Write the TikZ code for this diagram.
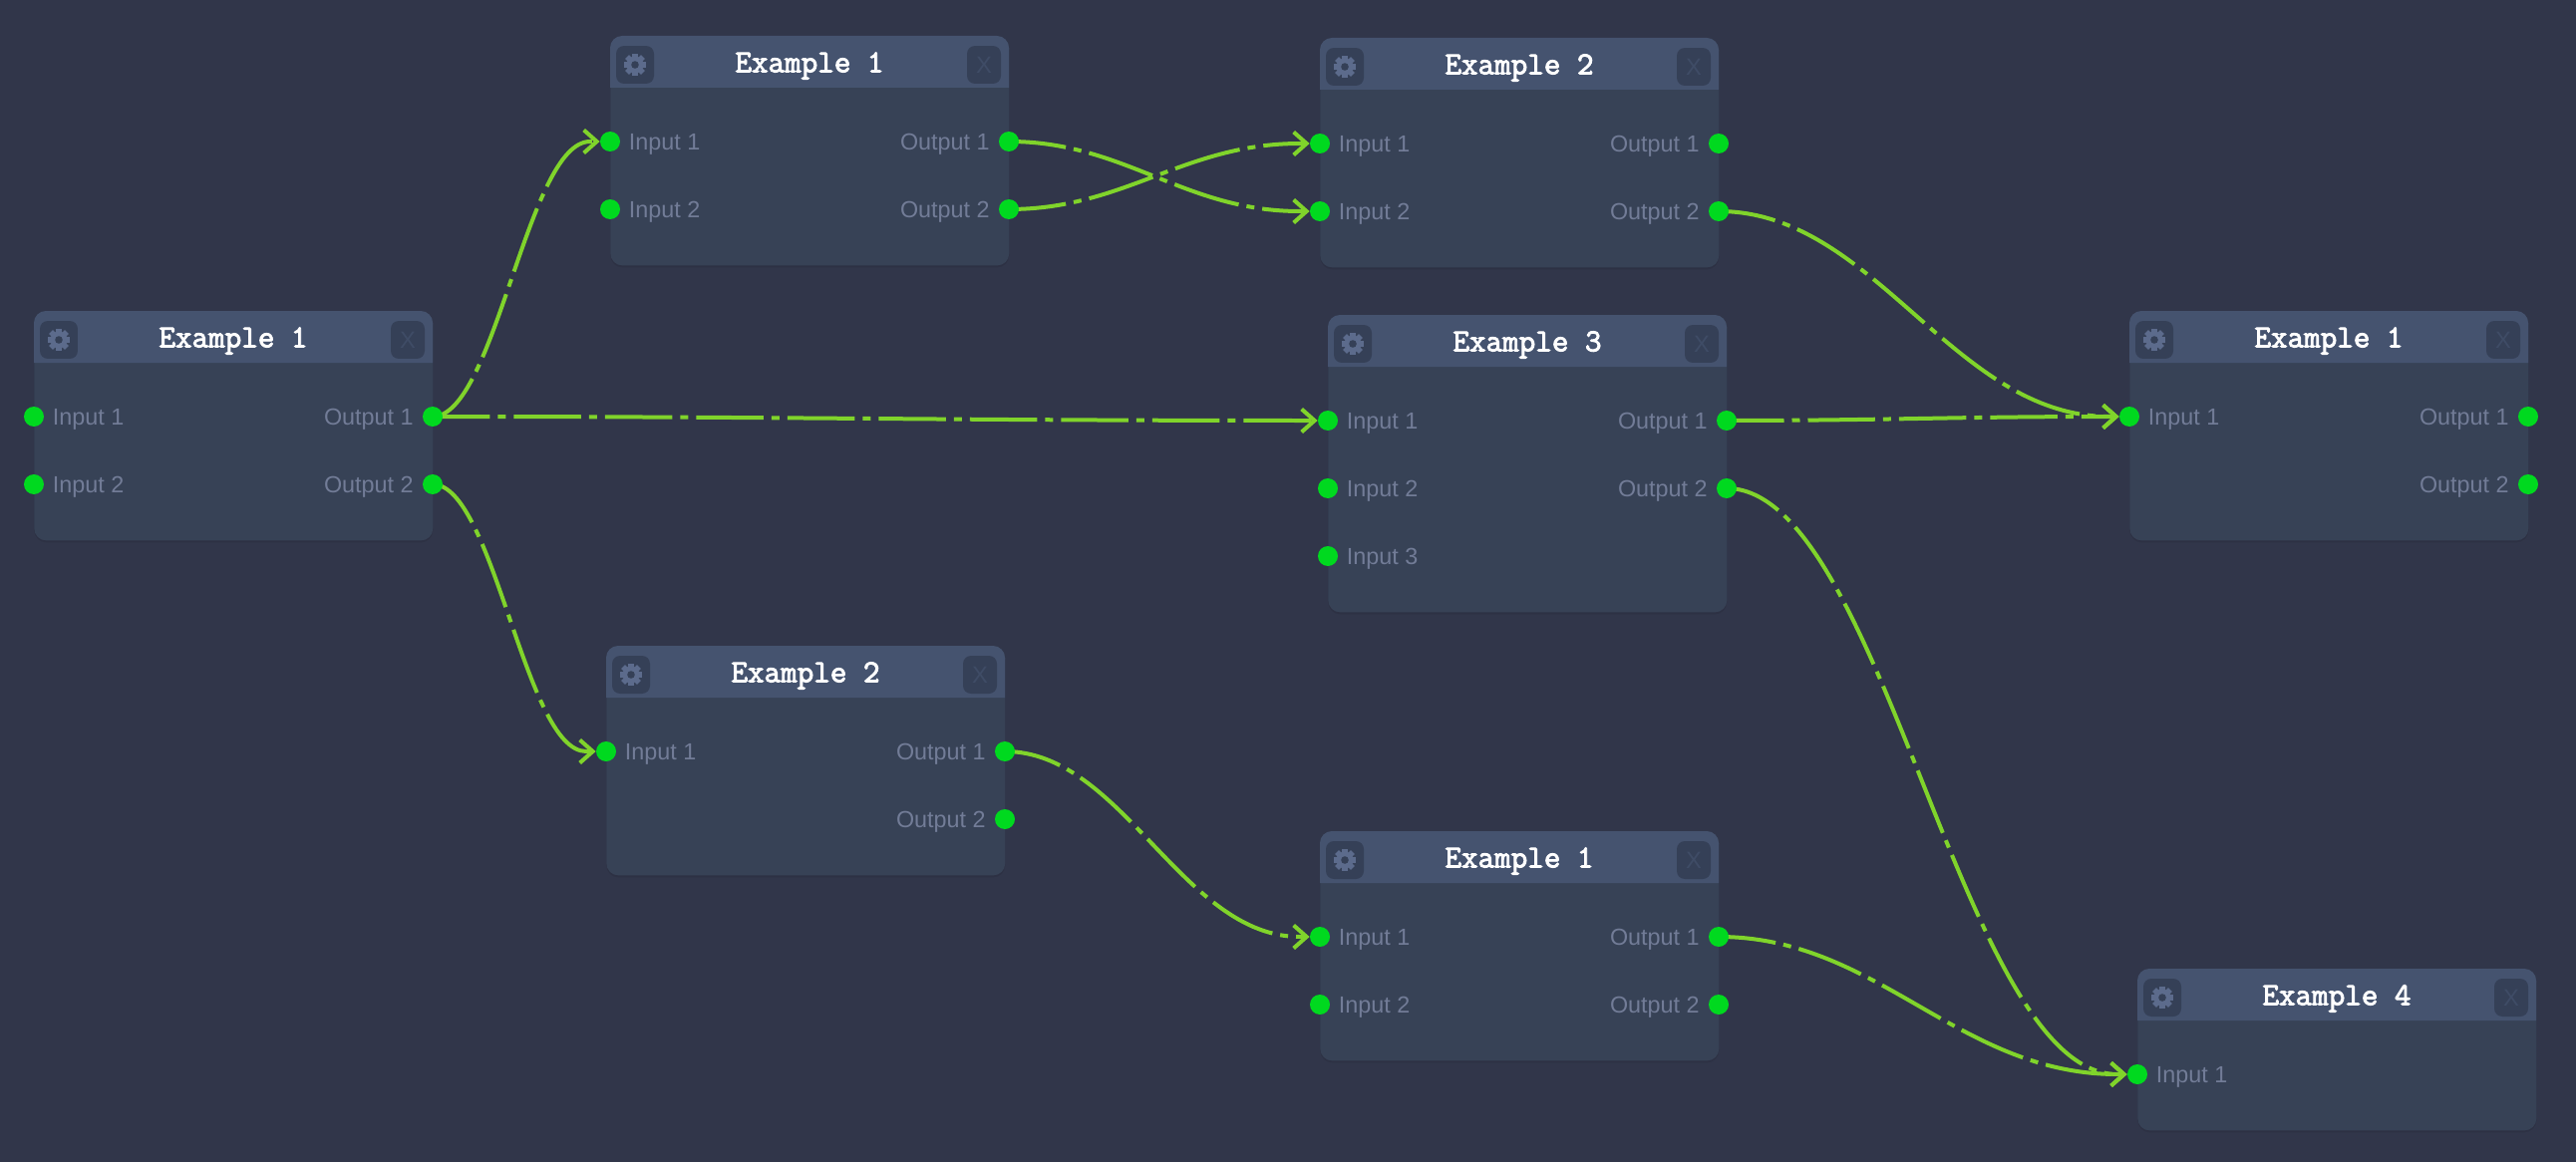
\documentclass[tikz,border=0pt]{standalone}
\usepackage{fontspec}
\setmainfont{Liberation Sans}
\newfontfamily\titlefont[FakeBold=2.8]{Latin Modern Mono}
\usetikzlibrary{positioning,calc,arrows.meta,shadows}

\pgfdeclarelayer{wires}
\pgfdeclarelayer{ports}
\pgfsetlayers{main,wires,ports}

\definecolor{pagebg}{HTML}{31364A}
\definecolor{cardfill}{HTML}{374256}
\definecolor{headfill}{HTML}{45536F}
\definecolor{btnfill}{HTML}{354057}
\definecolor{gearfill}{HTML}{5C6B8C}
\definecolor{closetxt}{HTML}{3F4C66}
\definecolor{porttxt}{HTML}{727C97}
\definecolor{portgreen}{HTML}{00D91F}
\definecolor{wiregreen}{HTML}{80D42B}

\tikzset{
  cardbody/.style={fill=cardfill, rounded corners=0.24cm, anchor=north west, minimum width=8cm, inner sep=0pt,
    drop shadow={shadow xshift=0cm, shadow yshift=-0.04cm, opacity=0.08, fill=black}},
  cardtitle/.style={text=white, font=\titlefont\fontsize{18.3}{20}\selectfont, inner sep=0pt},
  gearbtn/.style={fill=btnfill, rounded corners=0.16cm, minimum width=0.76cm, minimum height=0.76cm, inner sep=0pt},
  closebtn/.style={fill=btnfill, rounded corners=0.16cm, minimum width=0.68cm, minimum height=0.76cm, inner sep=0pt,
    text=closetxt, font=\fontsize{13.5}{15}\selectfont, text height=0.34cm, text depth=0pt},
  port/.style={circle, fill=portgreen, minimum size=0.4cm, inner sep=0pt},
  portlbl/.style={text=porttxt, font=\fontsize{13.3}{15}\selectfont, inner sep=0pt, text height=0.33cm, text depth=0pt},
  wire/.style={draw=wiregreen, line width=0.08cm, dash pattern=on 1.35cm off 0.16cm on 0.16cm off 0.16cm, dash phase=0.2cm},
  wirearrow/.style={wire, -{Straight Barb[length=0.26cm, width=0.46cm]}}
}

% name, left, top, height, title
\newcommand{\flowcard}[5]{
  \begin{scope}[shift={(#2,-#3)}]
    \node[cardbody, minimum height=#4*0.02cm] (#1) at (0,0) {};
    \fill[headfill] (0,-52) [rounded corners=0.24cm] -- (0,0) -- (400,0) [sharp corners] -- (400,-52) -- cycle;
    \node[cardtitle] (#1_title) at (200,-30) {#5};
    \node[gearbtn] (#1_gear) at (25,-29) {};
    \fill[gearfill] (25,-29) circle (8.5);
    \foreach \a in {0,45,...,315}
      \fill[gearfill, rotate around={\a:(25,-29)}] (22.2,-29) rectangle (27.8,-17.8);
    \fill[btnfill] (25,-29) circle (3.8);
    \node[closebtn] (#1_close) at (375,-29) {X};
  \end{scope}
}
% name, x, y, label
\newcommand{\inport}[4]{
  \node[port] (#1) at (#2,-#3) {};
  \node[portlbl, right=0.37cm of #1.center] (#1_lbl) {#4};
}
\newcommand{\outport}[4]{
  \node[port] (#1) at (#2,-#3) {};
  \node[portlbl, left=0.38cm of #1.center] (#1_lbl) {#4};
}
% from, to
\newcommand{\wireup}[2]{
  \draw[wirearrow] let \p1=(#1.center), \p2=($(#2.center)-(20,0)$), \n1={0.4*(\x2-\x1)} in
    (#1.center) .. controls +(\n1,0) and +(-\n1,0) .. (\p2) -- (#2.west);
}

\begin{document}
\begin{tikzpicture}[x=0.02cm, y=0.02cm]
  \useasboundingbox (0,0) rectangle (2584,-1166);
  \fill[pagebg] (0,0) rectangle (2584,-1166);

  % Cards
  \flowcard{A}{34}{312}{230}{Example 1}
  \flowcard{B}{612}{36}{230}{Example 1}
  \flowcard{C}{1324}{38}{230}{Example 2}
  \flowcard{D}{1332}{316}{298}{Example 3}
  \flowcard{E}{2136}{312}{230}{Example 1}
  \flowcard{F}{608}{648}{230}{Example 2}
  \flowcard{G}{1324}{834}{230}{Example 1}
  \flowcard{H}{2144}{972}{162}{Example 4}

  % Ports
  \begin{pgfonlayer}{ports}
  \inport{A_in1}{34}{418}{Input 1}
  \inport{A_in2}{34}{486}{Input 2}
  \outport{A_out1}{434}{418}{Output 1}
  \outport{A_out2}{434}{486}{Output 2}

  \inport{B_in1}{612}{142}{Input 1}
  \inport{B_in2}{612}{210}{Input 2}
  \outport{B_out1}{1012}{142}{Output 1}
  \outport{B_out2}{1012}{210}{Output 2}

  \inport{C_in1}{1324}{144}{Input 1}
  \inport{C_in2}{1324}{212}{Input 2}
  \outport{C_out1}{1724}{144}{Output 1}
  \outport{C_out2}{1724}{212}{Output 2}

  \inport{D_in1}{1332}{422}{Input 1}
  \inport{D_in2}{1332}{490}{Input 2}
  \inport{D_in3}{1332}{558}{Input 3}
  \outport{D_out1}{1732}{422}{Output 1}
  \outport{D_out2}{1732}{490}{Output 2}

  \inport{E_in1}{2136}{418}{Input 1}
  \outport{E_out1}{2536}{418}{Output 1}
  \outport{E_out2}{2536}{486}{Output 2}

  \inport{F_in1}{608}{754}{Input 1}
  \outport{F_out1}{1008}{754}{Output 1}
  \outport{F_out2}{1008}{822}{Output 2}

  \inport{G_in1}{1324}{940}{Input 1}
  \inport{G_in2}{1324}{1008}{Input 2}
  \outport{G_out1}{1724}{940}{Output 1}
  \outport{G_out2}{1724}{1008}{Output 2}

  \inport{H_in1}{2144}{1078}{Input 1}
  \end{pgfonlayer}

  % Connections
  \begin{pgfonlayer}{wires}
  \wireup{A_out1}{B_in1}
  \wireup{A_out1}{D_in1}
  \wireup{A_out2}{F_in1}
  \wireup{B_out1}{C_in2}
  \wireup{B_out2}{C_in1}
  \wireup{C_out2}{E_in1}
  \wireup{D_out1}{E_in1}
  \wireup{D_out2}{H_in1}
  \wireup{F_out1}{G_in1}
  \wireup{G_out1}{H_in1}
  \end{pgfonlayer}
\end{tikzpicture}
\end{document}
